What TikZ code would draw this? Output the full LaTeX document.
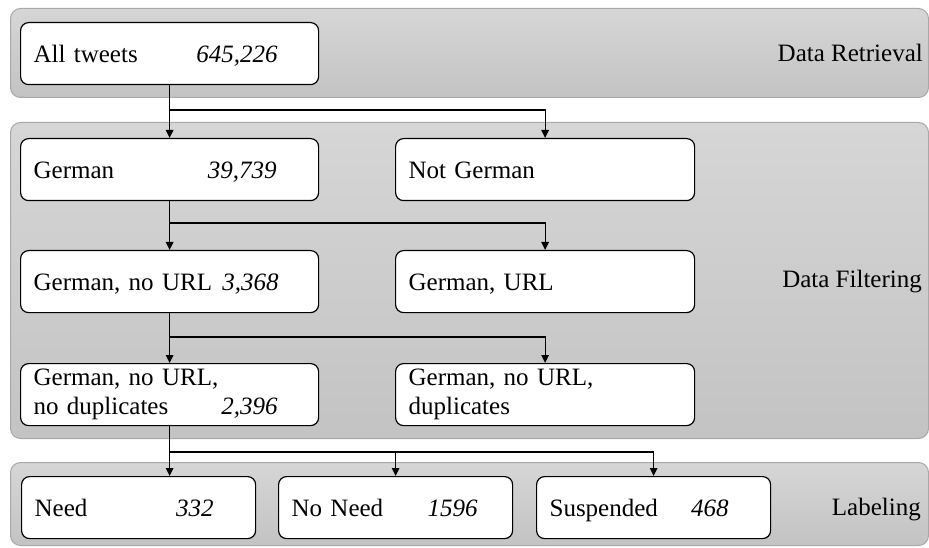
\documentclass[tikz,border=0pt]{standalone}
\usepackage{fontspec}
\setmainfont{Liberation Serif}
\usetikzlibrary{arrows.meta}
\definecolor{bandtop}{RGB}{214,214,214}
\definecolor{bandbot}{RGB}{195,195,195}
\definecolor{bandline}{RGB}{168,168,168}
\newcommand{\padr}[1]{\rule{#1}{0pt}}
\begin{document}
\begin{tikzpicture}[x=1pt,y=-1pt,
  band/.style={draw=bandline, line width=1pt, rounded corners=10pt, top color=bandtop, bottom color=bandbot, anchor=north west, inner sep=0pt},
  box/.style={draw=black, line width=1.2pt, rounded corners=8pt, fill=white, anchor=north west, minimum height=62pt, inner xsep=13pt, inner ysep=0pt, align=left, text width=#1, font=\fontsize{25}{29}\selectfont},
  one/.style={text height=18pt, text depth=0pt},
  lbl/.style={inner sep=0pt, font=\fontsize{25}{29}\selectfont},
  arr/.style={line width=1.2pt, -{Triangle[length=8pt,width=7.5pt]}}]
\useasboundingbox (0,0) rectangle (929,548);
% bands
\node[band, minimum width=918pt, minimum height=89pt] (b1) at (10,8) {};
\node[band, minimum width=918pt, minimum height=316pt] (b2) at (10,122) {};
\node[band, minimum width=918pt, minimum height=83pt] (b3) at (10,462) {};
\node[lbl, anchor=base east] (t1) at (923,62) {Data Retrieval};
\node[lbl, anchor=base east] (t2) at (922,287) {Data Filtering};
\node[lbl, anchor=base east] (t3) at (921,515) {Labeling};
% boxes
\node[box=272pt, one] (all) at (20,22) {All tweets\nobreak\hfill\textit{645,226}\padr{28pt}};
\node[box=272pt, one] (ger) at (20,138) {German\nobreak\hfill\textit{39,739}\padr{29pt}};
\node[box=273pt, one] (notger) at (395,138) {Not German};
\node[box=272pt, one] (gnu) at (20,250) {German, no URL\nobreak\hfill\textit{3,368}\padr{27pt}};
\node[box=273pt, one] (gurl) at (395,250) {German, URL};
\node[box=272pt] (gnd) at (20,363) {German, no URL,\\no duplicates\nobreak\hfill\textit{2,396}\padr{28pt}};
\node[box=273pt] (gd) at (395,363) {German, no URL,\\duplicates};
\node[box=208pt, one] (need) at (21,476) {Need\nobreak\hfill\textit{332}\padr{29pt}};
\node[box=208pt, one] (noneed) at (278,476) {No Need\nobreak\hfill\textit{1596}\padr{22pt}};
\node[box=208pt, one] (susp) at (536,476) {Suspended\nobreak\hfill\textit{468}\padr{29pt}};
% connectors
\coordinate (j1) at (all.south |- 0,110);
\coordinate (j2) at (ger.south |- 0,223);
\coordinate (j3) at (gnu.south |- 0,337);
\coordinate (j4) at (gnd.south |- 0,452);
\draw[arr] (all.south) -- (ger.north);
\draw[arr] (j1) -| (notger.north);
\draw[arr] (ger.south) -- (gnu.north);
\draw[arr] (j2) -| (gurl.north);
\draw[arr] (gnu.south) -- (gnd.north);
\draw[arr] (j3) -| (gd.north);
\draw[arr] (gnd.south) -- (gnd.south |- need.north);
\draw[arr] (j4) -| (noneed.north);
\draw[arr] (j4) -| (susp.north);
\end{tikzpicture}
\end{document}
